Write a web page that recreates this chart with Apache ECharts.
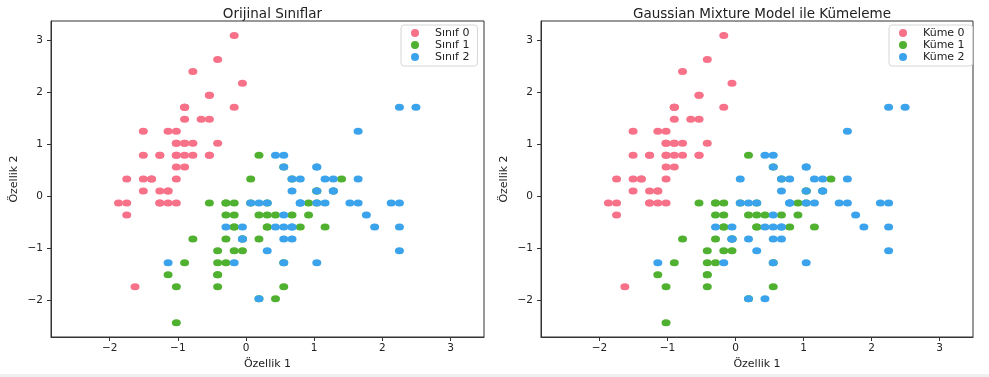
<!DOCTYPE html>
<html>
<head>
<meta charset="utf-8">
<script src="https://cdn.jsdelivr.net/npm/echarts@6/dist/echarts.min.js"></script>
<style>
  html, body { margin: 0; padding: 0; background: #fff; }
  #chart { width: 989px; height: 377px; }
</style>
</head>
<body>
<div id="chart"></div>
<script>
// Iris sepal length / sepal width (cm), per class
const setosaX = [5.1,4.9,4.7,4.6,5.0,5.4,4.6,5.0,4.4,4.9,5.4,4.8,4.8,4.3,5.8,5.7,5.4,5.1,5.7,5.1,5.4,5.1,4.6,5.1,4.8,5.0,5.0,5.2,5.2,4.7,4.8,5.4,5.2,5.5,4.9,5.0,5.5,4.9,4.4,5.1,5.0,4.5,4.4,5.0,5.1,4.8,5.1,4.6,5.3,5.0];
const setosaY = [3.5,3.0,3.2,3.1,3.6,3.9,3.4,3.4,2.9,3.1,3.7,3.4,3.0,3.0,4.0,4.4,3.9,3.5,3.8,3.8,3.4,3.7,3.6,3.3,3.4,3.0,3.4,3.5,3.4,3.2,3.1,3.4,4.1,4.2,3.1,3.2,3.5,3.6,3.0,3.4,3.5,2.3,3.2,3.5,3.8,3.0,3.8,3.2,3.7,3.3];
const versicolorX = [7.0,6.4,6.9,5.5,6.5,5.7,6.3,4.9,6.6,5.2,5.0,5.9,6.0,6.1,5.6,6.7,5.6,5.8,6.2,5.6,5.9,6.1,6.3,6.1,6.4,6.6,6.8,6.7,6.0,5.7,5.5,5.5,5.8,6.0,5.4,6.0,6.7,6.3,5.6,5.5,5.5,6.1,5.8,5.0,5.6,5.7,5.7,6.2,5.1,5.7];
const versicolorY = [3.2,3.2,3.1,2.3,2.8,2.8,3.3,2.4,2.9,2.7,2.0,3.0,2.2,2.9,2.9,3.1,3.0,2.7,2.2,2.5,3.2,2.8,2.5,2.8,2.9,3.0,2.8,3.0,2.9,2.6,2.4,2.4,2.7,2.7,3.0,3.4,3.1,2.3,3.0,2.5,2.6,3.0,2.6,2.3,2.7,3.0,2.9,2.9,2.5,2.8];
const virginicaX = [6.3,5.8,7.1,6.3,6.5,7.6,4.9,7.3,6.7,7.2,6.5,6.4,6.8,5.7,5.8,6.4,6.5,7.7,7.7,6.0,6.9,5.6,7.7,6.3,6.7,7.2,6.2,6.1,6.4,7.2,7.4,7.9,6.4,6.3,6.1,7.7,6.3,6.4,6.0,6.9,6.7,6.9,5.8,6.8,6.7,6.7,6.3,6.5,6.2,5.9];
const virginicaY = [3.3,2.7,3.0,2.9,3.0,3.0,2.5,2.9,2.5,3.6,3.2,2.7,3.0,2.5,2.8,3.2,3.0,3.8,2.6,2.2,3.2,2.8,2.8,2.7,3.3,3.2,2.8,3.0,2.8,3.0,2.8,3.8,2.8,2.8,2.6,3.0,3.4,3.1,3.0,3.1,3.1,3.1,2.7,3.2,3.3,3.0,2.5,3.0,3.4,3.0];

// GMM cluster of each sample, in the same order (setosa, versicolor, virginica)
const gmmSetosa = [0,0,0,0,0,0,0,0,0,0,0,0,0,0,0,0,0,0,0,0,0,0,0,0,0,0,0,0,0,0,0,0,0,0,0,0,0,0,0,0,0,0,0,0,0,0,0,0,0,0];
const gmmVersicolor = [1,1,1,1,1,1,1,1,1,1,1,1,1,1,1,1,1,1,2,1,2,1,1,1,1,1,1,1,1,1,1,1,1,2,1,1,1,1,1,1,1,1,1,1,1,1,1,1,1,1];
const gmmVirginica = [2,2,2,2,2,2,2,2,2,2,2,2,2,2,2,2,2,2,2,2,2,2,2,2,2,2,2,2,2,2,2,2,2,2,2,2,2,2,2,2,2,2,2,2,2,2,2,2,2,2];

const classNames = ["Sınıf 0", "Sınıf 1", "Sınıf 2"];
const clusterNames = ["Küme 0", "Küme 1", "Küme 2"];
const xTicks = [-2, -1, 0, 1, 2, 3];
const yTicks = [-2, -1, 0, 1, 2, 3];

const colors = ["#f77189", "#50b131", "#3ba3ec"];
const FONT = "DejaVu Sans";
const ELLIPSE = "path://M0 5A5 5 0 1 1 10 5A5 5 0 1 1 0 5Z";

// standard scaling (population std, as StandardScaler)
const allX = setosaX.concat(versicolorX, virginicaX);
const allY = setosaY.concat(versicolorY, virginicaY);
const trueLabels = setosaX.map(() => 0).concat(versicolorX.map(() => 1), virginicaX.map(() => 2));
const gmmLabels = gmmSetosa.concat(gmmVersicolor, gmmVirginica);
const stats = (arr) => {
  const m = arr.reduce((a, b) => a + b, 0) / arr.length;
  const s = Math.sqrt(arr.reduce((a, b) => a + (b - m) * (b - m), 0) / arr.length);
  return [m, s];
};
const [mx, sx] = stats(allX);
const [my, sy] = stats(allY);
const points = allX.map((v, i) => [(v - mx) / sx, (allY[i] - my) / sy]);

const minus = (v) => String(v).replace("-", "\u2212");

const makeX = () => ({
  type: "value",
  min: -2.86,
  max: 3.49,
  splitLine: { show: false },
  axisLine: { onZero: false, lineStyle: { color: "#333", width: 1 } },
  axisTick: { customValues: xTicks, length: 4, lineStyle: { color: "#333" } },
  axisLabel: { customValues: xTicks, formatter: minus, color: "#222", fontFamily: FONT, fontSize: 10.5, margin: 6 },
  name: "Özellik 1",
  nameLocation: "middle",
  nameGap: 22,
  nameTextStyle: { color: "#222", fontFamily: FONT, fontSize: 11 },
});
const makeY = () => ({
  type: "value",
  min: -2.71,
  max: 3.37,
  splitLine: { show: false },
  axisLine: { onZero: false, lineStyle: { color: "#333", width: 1 } },
  axisTick: { customValues: yTicks, length: 4, lineStyle: { color: "#333" } },
  axisLabel: { customValues: yTicks, formatter: minus, color: "#222", fontFamily: FONT, fontSize: 10.5, margin: 8 },
  name: "Özellik 2",
  nameLocation: "middle",
  nameGap: 31,
  nameTextStyle: { color: "#222", fontFamily: FONT, fontSize: 11 },
});

const makeLegend = (names, left) => ({
  data: names,
  orient: "vertical",
  left: left,
  top: 25,
  icon: ELLIPSE,
  itemWidth: 10,
  itemHeight: 8,
  itemGap: 0,
  padding: [2, 8, 3, 10],
  borderColor: "#d6d6d6",
  borderWidth: 1,
  borderRadius: 3,
  backgroundColor: "#fff",
  textStyle: { color: "#222", fontFamily: FONT, fontSize: 11, lineHeight: 12, padding: [0, 0, 0, 10] },
});

const series = [];
for (let k = 0; k < 3; k++) {
  series.push({
    name: classNames[k],
    type: "scatter",
    xAxisIndex: 0,
    yAxisIndex: 0,
    symbol: ELLIPSE,
    symbolSize: [9, 7],
    itemStyle: { color: colors[k], opacity: 1 },
    data: points.filter((p, i) => trueLabels[i] === k),
  });
}
for (let k = 0; k < 3; k++) {
  series.push({
    name: clusterNames[k],
    type: "scatter",
    xAxisIndex: 1,
    yAxisIndex: 1,
    symbol: ELLIPSE,
    symbolSize: [9, 7],
    itemStyle: { color: colors[k], opacity: 1 },
    data: points.filter((p, i) => gmmLabels[i] === k),
  });
}

const option = {
  animation: false,
  title: [
    { text: "Orijinal Sınıflar", left: 267.5, textAlign: "center", top: 2,
      textStyle: { color: "#222", fontFamily: FONT, fontSize: 13.5, fontWeight: "normal" } },
    { text: "Gaussian Mixture Model ile Kümeleme", left: 757, textAlign: "center", top: 2,
      textStyle: { color: "#222", fontFamily: FONT, fontSize: 13.5, fontWeight: "normal" } },
  ],
  legend: [makeLegend(classNames, 401), makeLegend(clusterNames, 889)],
  grid: [
    { left: 51, top: 21, width: 433, height: 316, show: true, borderColor: "#333", borderWidth: 1, backgroundColor: "transparent" },
    { left: 541, top: 21, width: 432, height: 316, show: true, borderColor: "#333", borderWidth: 1, backgroundColor: "transparent" },
  ],
  xAxis: [Object.assign(makeX(), { gridIndex: 0 }), Object.assign(makeX(), { gridIndex: 1 })],
  yAxis: [Object.assign(makeY(), { gridIndex: 0 }), Object.assign(makeY(), { gridIndex: 1 })],
  graphic: [
    { type: "rect", left: 0, top: 374, shape: { width: 989, height: 3 }, style: { fill: "#efefef" }, silent: true },
  ],
  series: series,
};

const chart = echarts.init(document.getElementById("chart"), null, { renderer: "canvas" });
chart.setOption(option);
window.addEventListener("resize", () => chart.resize());
</script>
</body>
</html>
